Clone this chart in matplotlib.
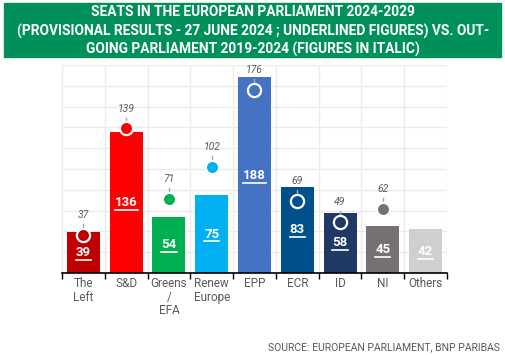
import matplotlib
matplotlib.use("Agg")
import matplotlib.pyplot as plt
from matplotlib.patches import Rectangle
from matplotlib.lines import Line2D
import numpy as np

categories = ["The\nLeft", "S&D", "Greens\n/\nEFA", "Renew\nEurope", "EPP", "ECR", "ID", "NI", "Others"]
seats_2024 = [39, 136, 54, 75, 188, 83, 58, 45, 42]
seats_2019 = [37, 139, 71, 102, 176, 69, 49, 62, None]
colors = ["#C00000", "#FF0000", "#00B050", "#00B0F0", "#4472C4", "#00508C", "#1F3864", "#767171", "#D0CECE"]

title_lines = ["SEATS IN THE EUROPEAN PARLIAMENT 2024-2029",
               "(PROVISIONAL RESULTS - 27 JUNE 2024 ; UNDERLINED FIGURES) VS. OUT-",
               "GOING PARLIAMENT 2019-2024 (FIGURES IN ITALIC)"]
source = "SOURCE: EUROPEAN PARLIAMENT, BNP PARIBAS"

plt.rcParams['font.family'] = ["Roboto", "DejaVu Sans"]

fig = plt.figure(figsize=(5.06, 3.55), dpi=100)
ax = fig.add_axes([62/506, 1 - 273/355, (447-62)/506, (273-65)/355])

x = np.arange(len(categories))
ax.bar(x, seats_2024, width=0.77, color=colors, zorder=2)

ax.set_xlim(-0.5, len(categories) - 0.5)
ax.set_ylim(0, 200)

ax.set_yticks(np.arange(0, 201, 20))
ax.set_yticklabels([])
ax.tick_params(axis='y', length=0)
ax.set_xticks(np.arange(-0.5, len(categories), 1.0))
ax.set_xticklabels([])
ax.tick_params(axis='x', direction='out', length=4, width=1, color='black')
ax.set_xticks(x, minor=True)
ax.set_xticklabels(categories, minor=True, fontsize=8.5, color="#595959", linespacing=1.05)
ax.tick_params(axis='x', which='minor', length=0, pad=3)
ax.grid(True, color="#EBEBEB", linewidth=1, zorder=0)
ax.set_axisbelow(True)
for s in ["top", "right", "left"]:
    ax.spines[s].set_visible(False)
ax.spines["bottom"].set_color("black")
ax.spines["bottom"].set_linewidth(1.2)

value_texts = []
for xi, v in zip(x, seats_2024):
    t = ax.text(xi, v / 2, str(v), ha='center', va='center',
                color='white', fontsize=9.5, fontweight='bold', zorder=4)
    value_texts.append(t)

for xi, v, c in zip(x, seats_2019, colors):
    if v is None:
        continue
    ax.plot([xi, xi], [v, v + 10.5], color="#A6A6A6", linewidth=1, zorder=3)
    ax.plot(xi, v, marker='o', markersize=9.5, markerfacecolor=c,
            markeredgecolor='white', markeredgewidth=1.6, zorder=5)
    ax.text(xi, v + 19, str(v), ha='center', va='center', fontsize=7.5,
            style='italic', color="#595959", zorder=5)

fig.patches.append(Rectangle((4/506, 1 - 57/355), 497/506, 54/355,
                             transform=fig.transFigure, color="#00915A", zorder=0))
for i, line in enumerate(title_lines):
    fig.text(0.5, 1 - (12.5 + 18.5 * i)/355, line, ha='center', va='center',
             color='white', fontsize=9.9, fontweight='bold')

fig.text(500/506, 1 - 347/355, source, ha='right', va='center', fontsize=7.5,
         color="#595959")

fig.canvas.draw()
r = fig.canvas.get_renderer()
inv = fig.transFigure.inverted()
for t in value_texts:
    bb = t.get_window_extent(r)
    (x0, y0), (x1, y1) = inv.transform([[bb.x0, bb.y0 - 1.0], [bb.x1, bb.y0 - 1.0]])
    fig.add_artist(Line2D([x0, x1], [y0, y1], color='white', linewidth=1.2,
                          transform=fig.transFigure, zorder=5))

fig.savefig("out.png", dpi=100)
